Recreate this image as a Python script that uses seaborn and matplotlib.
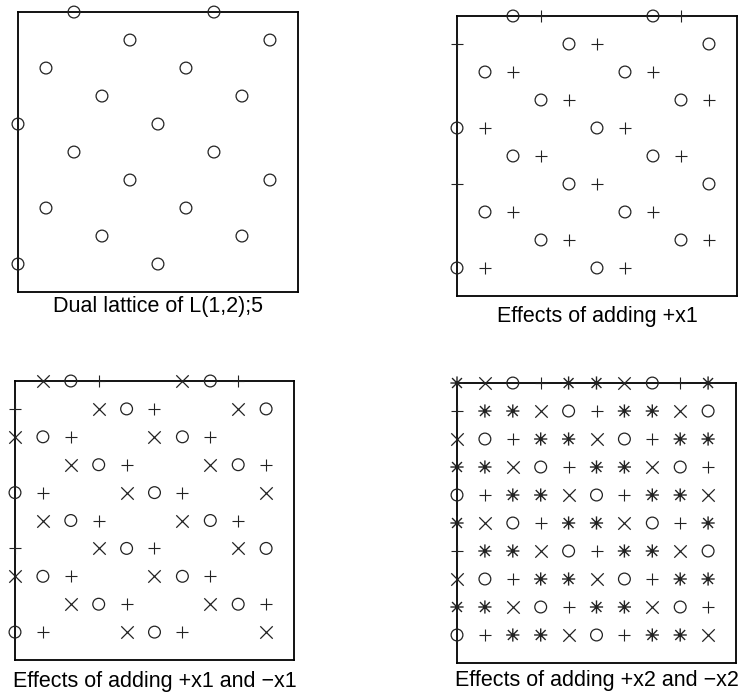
import numpy as np
import pandas as pd
import matplotlib
matplotlib.use('Agg')
import matplotlib.pyplot as plt
from matplotlib.path import Path
import seaborn as sns

# lattice symbols (rows from top, columns from left)
# o = lattice point, + = +shift, x = -shift, * = +/-2 shift
lattice = [
    "*xo+**xo+*",
    "+**xo+**xo",
    "xo+**xo+**",
    "**xo+**xo+",
    "o+**xo+**x",
    "*xo+**xo+*",
    "+**xo+**xo",
    "xo+**xo+**",
    "**xo+**xo+",
    "o+**xo+**x",
]

titles = [
    "Dual lattice of L(1,2);5",
    "Effects of adding +x1",
    "Effects of adding +x1 and \u2212x1",
    "Effects of adding +x2 and \u2212x2",
]
panel_symbols = [["o"], ["o", "+"], ["o", "+", "x"], ["o", "+", "x", "*"]]

# grid -> long table
rows = []
for r, line in enumerate(lattice):
    for c, ch in enumerate(line):
        rows.append({"col": c, "row": r, "sym": ch})
df = pd.DataFrame(rows)

sns.set_style("white")
plt.rcParams['font.family'] = ['Liberation Sans', 'DejaVu Sans']

# asterisk = plus + x (8 arms)
d = 0.75
star = Path([(0, -1), (0, 1), (-1, 0), (1, 0), (-d, -d), (d, d), (-d, d), (d, -d)],
            [Path.MOVETO, Path.LINETO] * 4)

fig = plt.figure(figsize=(7.46, 6.93), dpi=100)

# axes boxes in figure fractions
boxes = [
    [0.0241, 0.5786, 0.3753, 0.4040],
    [0.6126, 0.5729, 0.3753, 0.4040],
    [0.0201, 0.0476, 0.3740, 0.4026],
    [0.6126, 0.0433, 0.3740, 0.4040],
]
pads = [3, 7, 8, 5]

ink = '#222222'
marker_style = {
    "o": dict(marker='o', s=72, facecolors='none', edgecolors=ink, linewidths=0.9),
    "+": dict(marker='+', s=64, color=ink, linewidths=0.8),
    "x": dict(marker='x', s=80, color=ink, linewidths=0.9),
    "*": dict(marker=star, s=90, facecolors='none', edgecolors=ink, linewidths=1.0),
}

for i in range(4):
    ax = fig.add_axes(boxes[i])
    for sym in panel_symbols[i]:
        sub = df[df['sym'] == sym]
        sns.scatterplot(data=sub, x='col', y='row', ax=ax, clip_on=False,
                        legend=False, zorder=3, **marker_style[sym])
    ax.set_xlim(0, 10)
    ax.set_ylim(10, 0)
    ax.set_xticks([])
    ax.set_yticks([])
    ax.set_ylabel('')
    ax.set_xlabel(titles[i], fontsize=15.5, color='black', labelpad=pads[i])
    for sp in ax.spines.values():
        sp.set_visible(True)
        sp.set_color('black')
        sp.set_linewidth(1.3)

fig.savefig('out.png', dpi=100)
